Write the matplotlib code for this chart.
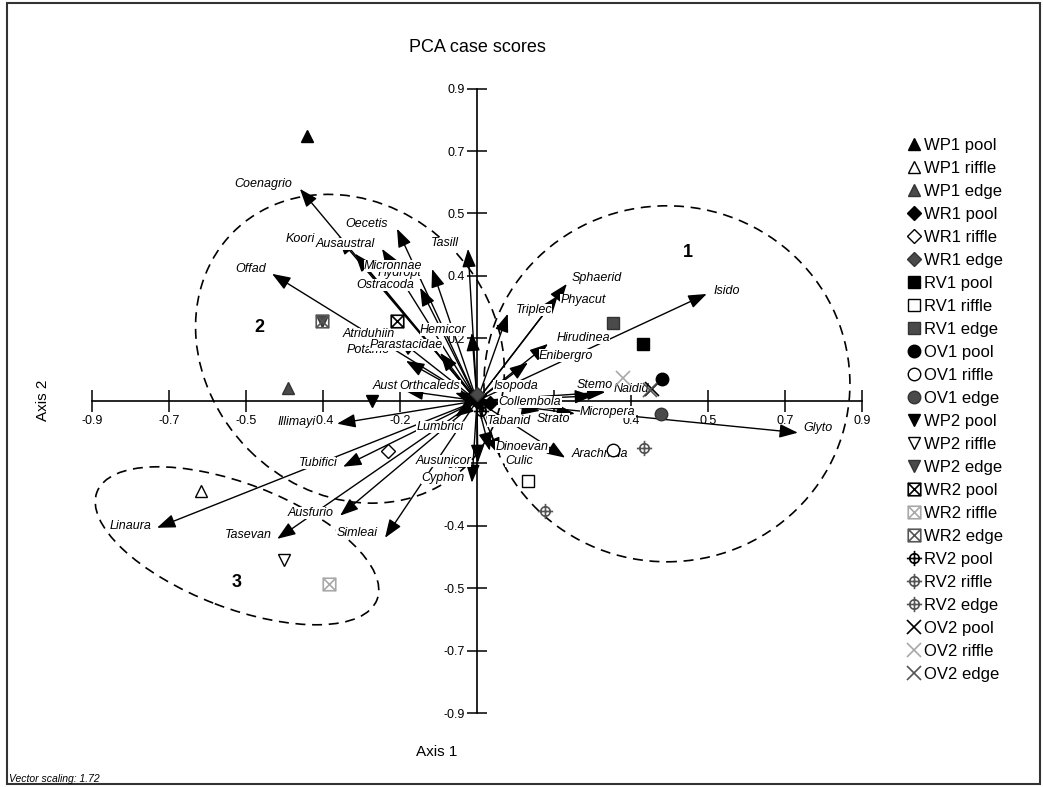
import numpy as np
import matplotlib
matplotlib.use("Agg")
import matplotlib.pyplot as plt
from matplotlib.lines import Line2D
from matplotlib.path import Path
from matplotlib.patches import Ellipse, Rectangle
from matplotlib.transforms import ScaledTranslation
from matplotlib.ticker import FormatStrFormatter

plt.rcParams['font.family'] = ['Liberation Sans', 'DejaVu Sans']

# species vectors (tip of arrow) and where their labels sit
species = ["Coenagrio", "Koori", "Ausaustral", "Oecetis", "Hydropt", "Micronnae",
           "Ostracoda", "Tasill", "Offad", "Atriduhiin", "Potamo", "Parastacidae",
           "Hemicor", "Aust", "Orthcaleds", "Illimayi", "Lumbrici", "Tubifici",
           "Linaura", "Ausfurio", "Tasevan", "Simleai", "Ausunicor", "Cyphon",
           "Dinoevan", "Culic", "Tabanid", "Arachnida", "Strato", "Micropera",
           "Collembola", "Isopoda", "Stemo", "Naidid", "Glyto", "Isido",
           "Sphaerid", "Phyacut", "Triplec", "Hirudinea", "Enibergro"]
sp_x = [-0.414, -0.325, -0.285, -0.187, -0.105, -0.222, -0.133, -0.021, -0.479, -0.185,
        -0.166, -0.086, -0.012, -0.168, -0.051, -0.327, -0.051, -0.313, -0.748, -0.320,
        -0.467, -0.215, 0.002, -0.012, 0.030, 0.054, 0.019, 0.206, 0.147, 0.229,
        0.035, 0.026, 0.271, 0.300, 0.750, 0.537, 0.210, 0.189, 0.072, 0.166, 0.119]
sp_y = [0.611, 0.473, 0.424, 0.496, 0.380, 0.438, 0.326, 0.438, 0.366, 0.179,
        0.115, 0.138, 0.196, 0.029, 0.023, -0.066, -0.046, -0.190, -0.366, -0.331,
        -0.398, -0.395, -0.179, -0.236, -0.144, -0.159, -0.035, -0.164, -0.029, -0.037,
        -0.006, 0.020, 0.014, 0.025, -0.092, 0.308, 0.337, 0.303, 0.251, 0.164, 0.110]
lab_x = [-0.500, -0.414, -0.308, -0.257, -0.180, -0.196, -0.215, -0.075, -0.530, -0.252,
         -0.255, -0.166, -0.079, -0.215, -0.110, -0.421, -0.086, -0.371, -0.811, -0.390,
         -0.535, -0.280, -0.079, -0.079, 0.105, 0.098, 0.075, 0.287, 0.178, 0.306,
         0.124, 0.091, 0.276, 0.362, 0.797, 0.584, 0.280, 0.248, 0.133, 0.248, 0.208]
lab_y = [0.625, 0.467, 0.452, 0.510, 0.369, 0.389, 0.334, 0.455, 0.380, 0.193,
         0.147, 0.161, 0.205, 0.043, 0.043, -0.061, -0.075, -0.179, -0.360, -0.323,
         -0.386, -0.380, -0.173, -0.222, -0.133, -0.173, -0.058, -0.153, -0.052, -0.032,
         -0.003, 0.043, 0.046, 0.035, -0.078, 0.317, 0.354, 0.291, 0.262, 0.182, 0.130]

# case (site) scores
sites = ["WP1 pool", "WP1 riffle", "WP1 edge", "WR1 pool", "WR1 riffle", "WR1 edge",
         "RV1 pool", "RV1 riffle", "RV1 edge", "OV1 pool", "OV1 riffle", "OV1 edge",
         "WP2 pool", "WP2 riffle", "WP2 edge", "WR2 pool", "WR2 riffle", "WR2 edge",
         "RV2 pool", "RV2 riffle", "RV2 edge", "OV2 pool", "OV2 riffle", "OV2 edge"]
site_x = [-0.397, -0.645, -0.442, 0.030, -0.208, 0.000,
          0.388, 0.119, 0.318, 0.432, 0.318, 0.430,
          -0.245, -0.451, -0.362, -0.187, -0.346, -0.362,
          0.010, 0.159, 0.390, 0.409, 0.341, 0.405]
site_y = [0.764, -0.259, 0.037, -0.005, -0.144, 0.020,
          0.164, -0.231, 0.225, 0.063, -0.143, -0.037,
          0.000, -0.458, 0.231, 0.231, -0.527, 0.231,
          -0.030, -0.317, -0.135, 0.035, 0.066, 0.030]

# group ellipses: centre (data), width/height (inches), angle
groups = ["1", "2", "3"]
group_lab_x = [0.494, -0.509, -0.562]
group_lab_y = [0.427, 0.210, -0.524]
ell_cx = [0.444, -0.297, -0.561]
ell_cy = [0.049, 0.150, -0.418]
ell_w = [3.66, 3.30, 3.00]
ell_h = [3.56, 2.86, 1.24]
ell_ang = [0, -45, -21]

# marker shapes
box_x = Path([(-1, -1), (1, -1), (1, 1), (-1, 1), (-1, -1), (-1, -1), (1, 1), (-1, 1), (1, -1)],
             [Path.MOVETO, Path.LINETO, Path.LINETO, Path.LINETO, Path.CLOSEPOLY,
              Path.MOVETO, Path.LINETO, Path.MOVETO, Path.LINETO])
cross = Path([(-1, 0), (1, 0), (0, -1), (0, 1)],
             [Path.MOVETO, Path.LINETO, Path.MOVETO, Path.LINETO])
circ = Path.circle((0, 0), 0.62)
cross_circle = Path.make_compound_path(circ, cross)

shapes = {"WP1": "^", "WR1": "D", "RV1": "s", "OV1": "o",
          "WP2": "v", "WR2": box_x, "RV2": cross_circle, "OV2": "x"}


def site_style(name):
    grp, hab = name.split()
    m = shapes[grp]
    if grp in ("WR2", "RV2", "OV2"):
        if grp == "RV2":
            col = {"pool": "black", "riffle": "#555555", "edge": "#555555"}[hab]
        else:
            col = {"pool": "black", "riffle": "#a8a8a8", "edge": "#555555"}[hab]
        ms = {"WR2": 9, "RV2": 11, "OV2": 10}[grp]
        return dict(marker=m, mfc="none", mec=col, ms=ms, mew=1.2)
    fc = {"pool": "black", "riffle": "white", "edge": "#4a4a4a"}[hab]
    ec = {"pool": "black", "riffle": "black", "edge": "#333333"}[hab]
    ms = 7 if grp == "WR1" else 9
    return dict(marker=m, mfc=fc, mec=ec, ms=ms, mew=1.0)


fig = plt.figure(figsize=(10.43, 7.87), dpi=100)
ax = fig.add_axes([92 / 1043, 74 / 787, 770 / 1043, 624.4 / 787])
ax.set_xlim(-0.9, 0.9)
ax.set_ylim(-0.9, 0.9)

for s in ("top", "right"):
    ax.spines[s].set_visible(False)
ax.spines["left"].set_position(("data", 0))
ax.spines["bottom"].set_position(("data", 0))
ax.spines["left"].set_linewidth(1.2)
ax.spines["bottom"].set_linewidth(1.2)
ax.patch.set_visible(False)

ticks = [t * 0.18 for t in range(-5, 6) if t != 0]
ax.set_xticks(ticks)
ax.set_yticks(ticks)
ax.xaxis.set_major_formatter(FormatStrFormatter("%.1f"))
ax.yaxis.set_major_formatter(FormatStrFormatter("%.1f"))
ax.tick_params(axis="x", direction="inout", length=16, width=1.1, pad=2, labelsize=9)
ax.tick_params(axis="y", direction="inout", length=15, width=1.1, pad=1, labelsize=9)

# ellipses
for cx, cy, w, h, a in zip(ell_cx, ell_cy, ell_w, ell_h, ell_ang):
    tr = fig.dpi_scale_trans + ScaledTranslation(cx, cy, ax.transData)
    ax.add_patch(Ellipse((0, 0), w, h, angle=a, transform=tr, fill=False,
                         ls=(0, (6, 4)), lw=1.2, color="black", clip_on=False))

for g, gx, gy in zip(groups, group_lab_x, group_lab_y):
    ax.text(gx, gy, g, fontsize=13, fontweight="bold", ha="center", va="center")

# species arrows, labels sit on small white boxes like the original output
for name, x, y, lx, ly in zip(species, sp_x, sp_y, lab_x, lab_y):
    ax.annotate("", xy=(x, y), xytext=(0, 0), zorder=2.8,
                arrowprops=dict(arrowstyle="-|>,head_length=0.8,head_width=0.3",
                                color="black", lw=1.0, shrinkA=0, shrinkB=0,
                                mutation_scale=14))
    ax.text(lx, ly, name, fontsize=9, style="italic", ha="center", va="center", zorder=3,
            bbox=dict(facecolor="white", edgecolor="none", pad=0.2))

# sites
handles = []
for name, x, y in zip(sites, site_x, site_y):
    st = site_style(name)
    ax.plot([x], [y], ls="none", clip_on=False, zorder=4, **st)
    handles.append(Line2D([], [], ls="none", **st))

fig.legend(handles, sites, loc="upper left", bbox_to_anchor=(907 / 1043, 1 - 138 / 787),
           frameon=False, fontsize=12, handlelength=0.8, handletextpad=0.2,
           labelspacing=0.48, borderpad=0, borderaxespad=0)

fig.text(477 / 1043, 1 - 47 / 787, "PCA case scores", ha="center", va="center", fontsize=13)
fig.text(437 / 1043, 1 - 752 / 787, "Axis 1", ha="center", va="center", fontsize=11)
fig.text(43 / 1043, 1 - 400 / 787, "Axis 2", ha="center", va="center", fontsize=11, rotation=90)
fig.text(9 / 1043, 1 - 779 / 787, "Vector scaling: 1.72", ha="left", va="center",
         fontsize=7.5, style="italic")

fig.patches.append(Rectangle((7 / 1043, 3 / 787), 1033 / 1043, 781 / 787,
                             transform=fig.transFigure, fill=False, lw=1.5, color="#333333"))

fig.savefig("out.png", dpi=100)
